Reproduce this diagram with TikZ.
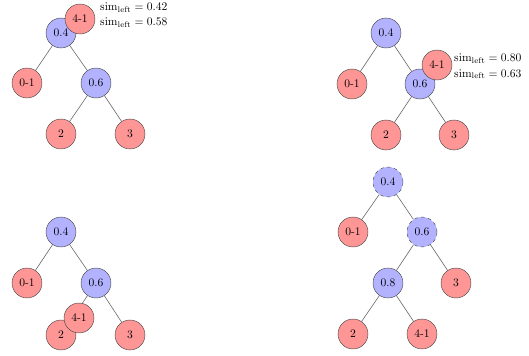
\documentclass[tikz,border=0pt]{standalone}
\usetikzlibrary{backgrounds}
\definecolor{redfill}{RGB}{255,150,150}
\definecolor{bluefill}{RGB}{178,178,255}
\tikzset{
  every node/.style={font=\fontsize{10}{12}\selectfont},
  leafnode/.style={circle, draw=black!70, fill=redfill, minimum size=25.9pt, inner sep=0pt},
  splitnode/.style={circle, draw=black!70, fill=bluefill, minimum size=25.9pt, inner sep=0pt},
  dashnode/.style={splitnode, dashed},
  edgeline/.style={draw=black!60, line width=0.5pt},
  simtext/.style={anchor=west, align=left, inner sep=0pt, font=\fontsize{10}{13}\selectfont}
}
\begin{document}
\begin{tikzpicture}[x=0.864pt, y=-0.864pt]
\useasboundingbox (0,0) rectangle (529,356);
% Panel 1
\node[splitnode] (A04) at (61,33) {0.4};
\node[leafnode] (A41) at (80,19) {4-1};
\node[leafnode] (A01) at (27,83) {0-1};
\node[splitnode] (A06) at (96,83) {0.6};
\node[leafnode] (A2) at (61,134) {2};
\node[leafnode] (A3) at (130,134) {3};
\node[simtext] (At) at (100,15) {$\mathrm{sim}_{\mathrm{left}} = 0.42$\\$\mathrm{sim}_{\mathrm{left}} = 0.58$};
% Panel 2
\node[splitnode] (B04) at (386,33) {0.4};
\node[leafnode] (B01) at (352,84) {0-1};
\node[splitnode] (B06) at (420,84) {0.6};
\node[leafnode] (B41) at (437,65) {4-1};
\node[leafnode] (B2) at (386,135) {2};
\node[leafnode] (B3) at (454,135) {3};
\node[simtext] (Bt) at (454,66.5) {$\mathrm{sim}_{\mathrm{left}} = 0.80$\\$\mathrm{sim}_{\mathrm{left}} = 0.63$};
% Panel 3
\node[splitnode] (C04) at (61,232) {0.4};
\node[leafnode] (C01) at (27,283) {0-1};
\node[splitnode] (C06) at (96,283) {0.6};
\node[leafnode] (C2) at (61,335) {2};
\node[leafnode] (C3) at (130,335) {3};
\node[leafnode] (C41) at (79,318) {4-1};
% Panel 4
\node[dashnode] (D04) at (388,182) {0.4};
\node[leafnode] (D01) at (353,232) {0-1};
\node[dashnode] (D06) at (422,232) {0.6};
\node[splitnode] (D08) at (388,283) {0.8};
\node[leafnode] (D3) at (456,283) {3};
\node[leafnode] (D2) at (353,334) {2};
\node[leafnode] (D41) at (422,334) {4-1};
\begin{pgfonlayer}{background}
\draw[edgeline] (A04) -- (A01);
\draw[edgeline] (A04) -- (A06);
\draw[edgeline] (A06) -- (A2);
\draw[edgeline] (A06) -- (A3);
\draw[edgeline] (B04) -- (B01);
\draw[edgeline] (B04) -- (B06);
\draw[edgeline] (B06) -- (B2);
\draw[edgeline] (B06) -- (B3);
\draw[edgeline] (C04) -- (C01);
\draw[edgeline] (C04) -- (C06);
\draw[edgeline] (C06) -- (C2);
\draw[edgeline] (C06) -- (C3);
\draw[edgeline] (D04) -- (D01);
\draw[edgeline] (D04) -- (D06);
\draw[edgeline] (D06) -- (D08);
\draw[edgeline] (D06) -- (D3);
\draw[edgeline] (D08) -- (D2);
\draw[edgeline] (D08) -- (D41);
\end{pgfonlayer}
\end{tikzpicture}
\end{document}
